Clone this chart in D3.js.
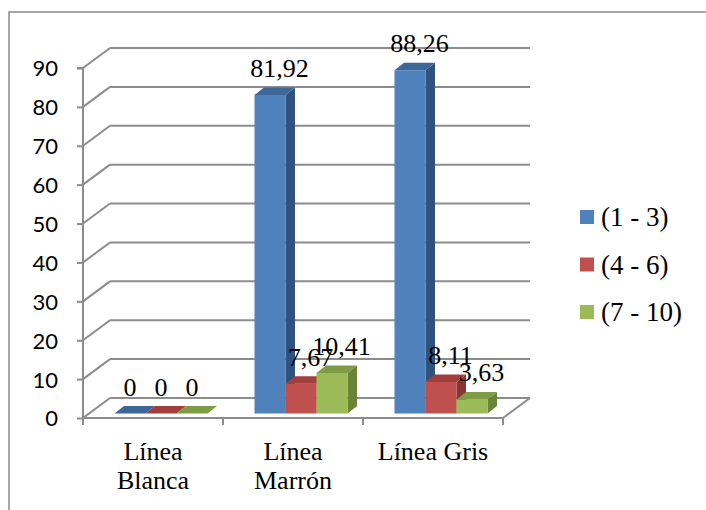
<!DOCTYPE html>
<html>
<head>
<meta charset="utf-8">
<script src="https://cdn.jsdelivr.net/npm/d3@7/dist/d3.min.js"></script>
<style>
  html, body { margin: 0; padding: 0; background: #ffffff; }
  svg { display: block; }
</style>
</head>
<body>
<svg id="chart" width="706" height="510"></svg>
<script>
// Chart data
const categories = ["Línea Blanca", "Línea Marrón", "Línea Gris"];
const seriesNames = ["(1 - 3)", "(4 - 6)", "(7 - 10)"];
const values1to3 = [0, 81.92, 88.26];
const values4to6 = [0, 7.67, 8.11];
const values7to10 = [0, 10.41, 3.63];
const yTicks = [0, 10, 20, 30, 40, 50, 60, 70, 80, 90];

const seriesValues = [values1to3, values4to6, values7to10];

const SERIF = '"Liberation Serif", "Times New Roman", serif';
const SANS = 'Lato, "Liberation Sans", Arial, sans-serif';

// Face colours per series: front, top, side
const palette = [
  { front: "#4F81BD", top: "#3C6798", side: "#30527E" },
  { front: "#C0504D", top: "#A13F3C", side: "#8A3533" },
  { front: "#9BBB59", top: "#7E9B45", side: "#6A8437" }
];

const svg = d3.select("#chart");
const gridColor = "#8c8c8c";

// Outer frame
svg.append("rect")
  .attr("x", 9).attr("y", 12)
  .attr("width", 760).attr("height", 560)
  .attr("fill", "none")
  .attr("stroke", "#8a8a8a")
  .attr("stroke-width", 1.5);

// Scales
const y = d3.scaleLinear().domain([0, 90]).range([418, 68]);
const x = d3.scaleBand().domain(categories).range([83, 503]).padding(0);

// 3D projection offsets
const DX = 27, DY = -20;        // depth of the floor / walls
const FDY = -4.5;               // front face of bars inside the depth
const BDX = 9.5, BDY = -7.5;    // depth of each bar
const BW = 31;                  // bar width
const x0 = 83, x1 = 503;

const grid = svg.append("g")
  .attr("stroke", gridColor)
  .attr("stroke-width", 2)
  .attr("fill", "none");

// Back-wall gridlines and the diagonals joining them to the value axis
yTicks.forEach(t => {
  grid.append("line")
    .attr("x1", x0 + DX).attr("x2", x1 + DX)
    .attr("y1", y(t) + DY).attr("y2", y(t) + DY);
  grid.append("line")
    .attr("x1", x0).attr("y1", y(t))
    .attr("x2", x0 + DX).attr("y2", y(t) + DY);
});

// Floor front edge and right edge
grid.append("line")
  .attr("x1", x0).attr("x2", x1)
  .attr("y1", y(0)).attr("y2", y(0));
grid.append("line")
  .attr("x1", x1).attr("y1", y(0))
  .attr("x2", x1 + DX).attr("y2", y(0) + DY);

// Value axis
const yAxis = d3.axisLeft(y).tickValues(yTicks).tickSize(6).tickPadding(19);
const yAxisG = svg.append("g")
  .attr("transform", `translate(${x0},0)`)
  .call(yAxis);
yAxisG.select(".domain")
  .attr("stroke", gridColor).attr("stroke-width", 2)
  .attr("d", `M-6,${y(90)}H0V${y(0) + 7}`);
yAxisG.selectAll(".tick line").attr("stroke", gridColor).attr("stroke-width", 2);
yAxisG.selectAll(".tick text")
  .style("font-family", SANS)
  .style("font-size", "22px")
  .attr("fill", "#000")
  .attr("dy", "0.36em");

// Category tick marks along the floor front edge
const catBounds = categories.map(c => x(c)).concat([x1]);
svg.append("g")
  .attr("stroke", gridColor).attr("stroke-width", 2)
  .selectAll("line")
  .data(catBounds)
  .join("line")
  .attr("x1", d => d).attr("x2", d => d)
  .attr("y1", y(0)).attr("y2", y(0) + 7);

// Category labels, wrapped to the band width
const catLabels = svg.append("g")
  .style("font-family", SERIF)
  .style("font-size", "26px")
  .attr("text-anchor", "middle");
categories.forEach(c => {
  const cx = x(c) + x.bandwidth() / 2;
  const t = catLabels.append("text").attr("x", cx).attr("y", 460).text(c);
  if (t.node().getComputedTextLength() > x.bandwidth() - 12) {
    const words = c.split(" ");
    t.text(null);
    words.forEach((w, i) => {
      t.append("tspan").attr("x", cx).attr("y", 460 + i * 28.5).text(w);
    });
  }
});

// Bars
const bars = svg.append("g");
const labels = svg.append("g")
  .style("font-family", SERIF)
  .style("font-size", "26px")
  .attr("text-anchor", "middle")
  .attr("fill", "#000");

const fmt = v => String(v).replace(".", ",");

categories.forEach((c, ci) => {
  const groupLeft = x(c) + x.bandwidth() / 2 + 8 - 1.5 * BW;
  seriesValues.forEach((vals, si) => {
    const v = vals[ci];
    const col = palette[si];
    const bx = groupLeft + si * BW;
    const yb = y(0) + FDY;
    const yt = y(v) + FDY;

    // side face
    bars.append("polygon")
      .attr("points", [
        [bx + BW, yt], [bx + BW + BDX, yt + BDY],
        [bx + BW + BDX, yb + BDY], [bx + BW, yb]
      ].map(p => p.join(",")).join(" "))
      .attr("fill", col.side);
    // front face
    bars.append("rect")
      .attr("x", bx).attr("y", yt)
      .attr("width", BW).attr("height", yb - yt)
      .attr("fill", col.front);
    // top face
    bars.append("polygon")
      .attr("points", [
        [bx, yt], [bx + BW, yt],
        [bx + BW + BDX, yt + BDY], [bx + BDX, yt + BDY]
      ].map(p => p.join(",")).join(" "))
      .attr("fill", col.top);

    // value label
    labels.append("text")
      .attr("x", bx + BW / 2 + (v > 0 ? BDX : 0))
      .attr("y", yt + BDY - 10.5)
      .text(fmt(v));
  });
});

// Legend
const legend = svg.append("g")
  .style("font-family", SERIF)
  .style("font-size", "27px");
seriesNames.forEach((name, i) => {
  const ly = 210 + i * 47.5;
  legend.append("rect")
    .attr("x", 580).attr("y", ly)
    .attr("width", 14).attr("height", 14)
    .attr("fill", palette[i].front);
  legend.append("text")
    .attr("x", 601).attr("y", ly + 16)
    .attr("fill", "#000")
    .text(name);
});
</script>
</body>
</html>
